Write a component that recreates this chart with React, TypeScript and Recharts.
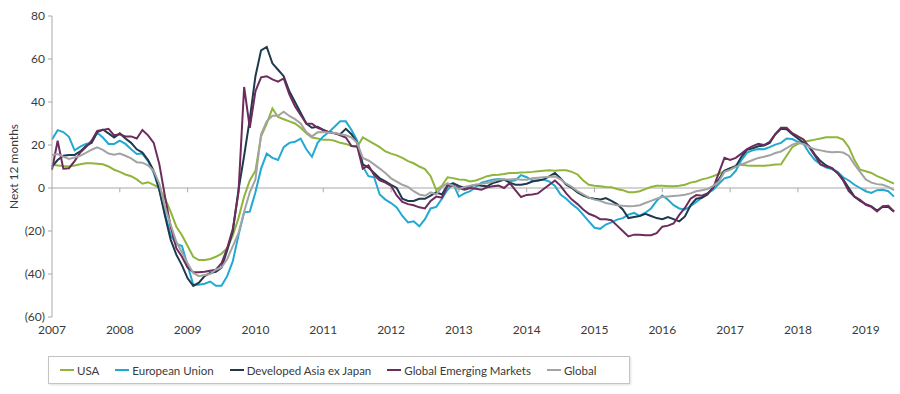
import React from 'react';
import { LineChart, Line, XAxis, YAxis, ReferenceLine } from 'recharts';

// monthly, Jan 2007 .. Jun 2019 (150 points)
const YEARS = ['2007', '2008', '2009', '2010', '2011', '2012', '2013', '2014', '2015', '2016', '2017', '2018', '2019'];
const MONTH_NUMS = ['01', '02', '03', '04', '05', '06', '07', '08', '09', '10', '11', '12'];
const Y_TICKS = [80, 60, 40, 20, 0, -20, -40, -60];

const USA = [
    10.8, 10.5, 10.2, 10, 10.5, 11, 11.5, 11.5, 11.3, 11, 10, 8.5,
    7.5, 6.3, 5.5, 4, 2, 2.7, 1.5, 0, -5, -11, -18, -22,
    -27, -32, -33.5, -33.5, -33, -32, -30.5, -28, -22, -14, -4, 3.5,
    8, 24, 30, 37, 33, 32, 31, 30, 28, 25.5, 23.5, 23,
    22.5, 22.5, 22, 21, 20.5, 19.5, 19, 23.5, 22, 20.5, 19, 17,
    16, 15.2, 14, 12.5, 11.5, 10, 8.8, 5.5, -1, 1, 5, 4.6,
    4, 3.8, 3, 3.5, 4.5, 5.5, 6, 6.2, 6.5, 7, 7, 7.2,
    7.3, 7.5, 7.8, 8, 8.2, 8, 8.2, 8.2, 7.5, 6.3, 3.5, 1.5,
    1, 0.8, 0.5, 0.3, -0.5, -1, -2, -2, -1.5, -0.5, 0.5, 1,
    1, 0.8, 0.8, 1, 1.5, 2.5, 3, 4, 4.6, 5.5, 6.5, 8,
    9, 10.5, 10.8, 10.5, 10.4, 10.4, 10.4, 10.6, 10.9, 11, 15, 19,
    20.5, 21.5, 22, 22.5, 23, 23.6, 23.6, 23.6, 22.5, 19, 13, 8.5,
    7.8, 7, 5.5, 4.5, 3.2, 2,
];

const EU = [
    22.6, 26.9, 26, 23.8, 17.5, 19.2, 20.5, 21, 25.7, 23.5, 20.5, 20.5,
    22, 20.5, 18, 15.8, 16, 12.5, 7, -1, -12, -22, -26, -27,
    -36, -45, -45, -44.5, -43.5, -45.5, -45.5, -41, -34, -22, -11.3, -11,
    -2, 9, 16, 14, 13, 19, 21, 21.5, 23, 18, 14.5, 21,
    24, 26, 28.5, 31, 31, 27, 22, 10, 5.5, 5, -3, -5.4,
    -7, -9, -13, -16, -15.5, -17.8, -14.5, -9.5, -8.8, -5, -0.8, 2,
    -4, -2.5, -1.5, 0.5, 2.5, 3.2, 3.9, 4.2, 3.9, 3.1, 3.6, 6,
    5, 3.5, 3.5, 3.9, 3, 1, -3, -5, -7.5, -9.5, -12.5, -15.5,
    -18.5, -19, -17, -16, -14.7, -14, -12.4, -11.6, -13, -11.5, -9.5, -6,
    -3.5, -5.5, -8, -9.5, -10, -8.5, -6.5, -4.5, -2.5, -0.8, 2, 4.5,
    5.2, 8, 13, 16.5, 17.5, 18.1, 18, 19, 20.2, 21, 23, 22.8,
    21.5, 20.5, 16.3, 13, 11, 9.5, 8.8, 7.5, 5, 3.5, 1.5, 0,
    -1.5, -2.3, -1, -0.8, -1.5, -4,
];

const DEV_ASIA = [
    10, 13, 15, 15.4, 15.4, 17, 19.5, 21, 26, 27.2, 25.4, 23.5,
    25.4, 23, 21, 18, 16.5, 13, 8, -1, -13, -24, -31, -36,
    -42, -45.5, -44, -41, -39.5, -39, -37, -29, -20, -1, 15, 32,
    52, 64, 65.6, 58, 55, 52, 45, 40, 35, 30, 28, 28.5,
    27, 26, 25.5, 25, 27.5, 25, 21, 11, 9.5, 7, 4.5, 3.1,
    1.5, 0, -5, -6, -6, -5, -5, -3.5, -2, -3, 1.5, 2.2,
    1, 0, 0.8, 1.5, 1, 0.8, 2.3, 3, 3.9, 2.5, 1.5, 1.5,
    2, 3, 3.5, 4, 5.4, 7, 4.5, 1.5, 0, -2, -3.5, -4.5,
    -5, -5.4, -4.7, -6, -7.5, -10, -14, -13.5, -13, -12, -13, -14,
    -14.5, -13.5, -14.5, -15.5, -13.2, -8, -5, -4.5, -3, 0.5, 4, 8,
    9.2, 10, 14.5, 17.8, 18.5, 19.4, 19.8, 21, 25, 27.5, 27.3, 25,
    23, 21, 19.4, 15.5, 12.5, 10.5, 9.2, 7, 4, 0, -4, -6,
    -7.5, -8.5, -10.5, -8.7, -8.8, -11,
];

const GEM = [
    8.5, 22, 9, 9.2, 12.5, 16.5, 19, 22, 26.6, 27, 27.5, 24.5,
    25, 24, 24, 23, 27, 24.5, 21, 11, -4, -18, -28, -32,
    -37, -39.2, -39.2, -39, -38.5, -38, -35, -28, -19, -2, 47, 28,
    45, 51.5, 52, 50.5, 49.5, 51, 43.5, 38, 34, 30, 29.9, 28,
    27, 26, 25.5, 24.5, 23.5, 19.5, 19.4, 9, 10.5, 6, 3.5, 2.5,
    1, -3.5, -6.5, -7.5, -8, -9, -9.5, -6, -4, -4.5, 1, 1,
    0, -0.8, 0, -0.3, -0.8, 0.3, 0.8, 1.1, 0, 2.3, -1, -4.2,
    -3.2, -3, -2.5, -0.5, 1.5, 3.5, 1, -2.5, -5.4, -7.5, -10, -12,
    -13, -14.5, -14.5, -15, -17.5, -20, -22.5, -21.7, -21.7, -22, -22, -21,
    -18, -17.5, -16.5, -12.5, -9.3, -5, -3.3, -3.6, -2.5, 0, 7, 14,
    13, 14, 16, 18.1, 19.5, 20.6, 20, 21.5, 25, 28, 28, 25.5,
    24, 22.5, 19, 15, 11, 10, 9.3, 7, 3.5, -1.5, -4, -5.5,
    -7.8, -8.8, -10.9, -8.5, -8.3, -10.9,
];

const GLOBAL = [
    15.4, 15.8, 14.6, 13.5, 14.2, 15, 16.3, 17.8, 18.9, 17.7, 16, 15.5,
    16, 15, 13.8, 12, 11.8, 10.5, 8, 2, -9, -17, -25, -30,
    -35, -39.5, -41, -40.5, -40, -38, -37, -33, -27, -21, -11, -2,
    4, 25, 31, 33.6, 33.6, 35.5, 33.5, 32, 30, 26, 24, 25.9,
    26, 25.8, 25.6, 25, 24.5, 23.5, 21, 14, 12.8, 11, 9, 7,
    4.5, 3, 1.5, 0.5, -1.5, -3, -3.6, -2, -3, 0.5, 2.3, 1,
    -0.5, 0.5, 1, 1.5, 2, 2.3, 3, 3.9, 3.9, 4, 4.2, 3.8,
    3.8, 4.5, 4.8, 5, 5.2, 5.4, 4, 2, 0.5, -1.5, -3, -4.5,
    -5.4, -6, -7, -7.5, -8, -8.3, -8.5, -8.4, -8, -7, -6, -5,
    -4.2, -3.9, -3.7, -3.5, -3.1, -2.5, -1.5, -1, -0.5, 1, 3, 7.5,
    8.5, 9.8, 11, 12, 13, 14, 14.5, 15.2, 16.3, 17, 18.5, 20.2,
    21, 20.5, 19.1, 18, 17.5, 17, 16.6, 16.8, 16.5, 15, 11, 7.5,
    4, 2.5, 1.8, 1.5, 0.5, -1,
];

const SERIES = [
    { key: 'usa', name: 'USA', color: '#8fb53a', values: USA },
    { key: 'eu', name: 'European Union', color: '#22a9d2', values: EU },
    { key: 'asia', name: 'Developed Asia ex Japan', color: '#1e3a4c', values: DEV_ASIA },
    { key: 'gem', name: 'Global Emerging Markets', color: '#6d2c5c', values: GEM },
    { key: 'global', name: 'Global', color: '#a3a3a3', values: GLOBAL },
];

const MONTHS = YEARS.flatMap((y) => MONTH_NUMS.map((m) => `${y}-${m}`)).slice(0, USA.length);

const data = MONTHS.map((month, i) => {
    const row: Record<string, number | string> = { i, month };
    SERIES.forEach((s) => {
        row[s.key] = s.values[i];
    });
    return row;
});

const AXIS_GREY = '#a8a8a8';
const TEXT = '#3a3a3a';

const YLabel = ({ viewBox }: any) => {
    const cy = viewBox.y + viewBox.height / 2;
    return (
        <text x={13} y={cy} transform={`rotate(-90 13 ${cy})`} textAnchor="middle" dominantBaseline="central" fill={TEXT} fontSize={12}>
            Next 12 months
        </text>
    );
};

export default function App() {
    return (
        <div style={{ position: 'relative', width: 900, height: 394, fontFamily: 'Lato, sans-serif', background: '#fff' }}>
            <style>{'body{margin:0}'}</style>
            <LineChart width={900} height={394} data={data} margin={{ top: 16, right: 6, left: 0, bottom: 57 }}>
                <XAxis
                    dataKey="i"
                    type="number"
                    domain={[0, USA.length - 1]}
                    ticks={YEARS.map((_, k) => k * 12)}
                    tickFormatter={(v) => YEARS[Math.round(v / 12)]}
                    interval={0}
                    axisLine={false}
                    tickLine={false}
                    tickSize={0}
                    tickMargin={8}
                    height={20}
                    tick={{ fill: TEXT, fontSize: 12 }}
                />
                <YAxis
                    domain={[-60, 80]}
                    ticks={Y_TICKS}
                    interval={0}
                    width={52}
                    tickFormatter={(v) => (v < 0 ? `(${-v})` : `${v}`)}
                    axisLine={{ stroke: AXIS_GREY }}
                    tickLine={{ stroke: AXIS_GREY }}
                    tickSize={4}
                    tickMargin={3}
                    tick={{ fill: TEXT, fontSize: 12 }}
                    label={<YLabel />}
                />
                <ReferenceLine y={0} stroke={AXIS_GREY} strokeWidth={1} />
                {YEARS.slice(1).map((y, k) => (
                    <ReferenceLine
                        key={y}
                        segment={[
                            { x: (k + 1) * 12, y: 0 },
                            { x: (k + 1) * 12, y: -2 },
                        ]}
                        stroke={AXIS_GREY}
                    />
                ))}
                {SERIES.map((s) => (
                    <Line
                        key={s.key}
                        type="linear"
                        dataKey={s.key}
                        name={s.name}
                        stroke={s.color}
                        strokeWidth={2}
                        dot={false}
                        isAnimationActive={false}
                    />
                ))}
            </LineChart>
            <div
                style={{
                    position: 'absolute',
                    left: 48,
                    top: 356,
                    width: 582,
                    height: 28,
                    boxSizing: 'border-box',
                    border: '1px solid #c4c4c4',
                    boxShadow: '1px 1px 2px rgba(0,0,0,0.12)',
                    display: 'flex',
                    alignItems: 'center',
                    paddingLeft: 11,
                    gap: 16,
                    fontSize: 11.5,
                    color: TEXT,
                }}
            >
                {SERIES.map((s) => (
                    <div key={s.key} style={{ display: 'flex', alignItems: 'center' }}>
                        <span style={{ display: 'inline-block', width: 14, height: 2, background: s.color, marginRight: 3 }} />
                        <span>{s.name}</span>
                    </div>
                ))}
            </div>
        </div>
    );
}
